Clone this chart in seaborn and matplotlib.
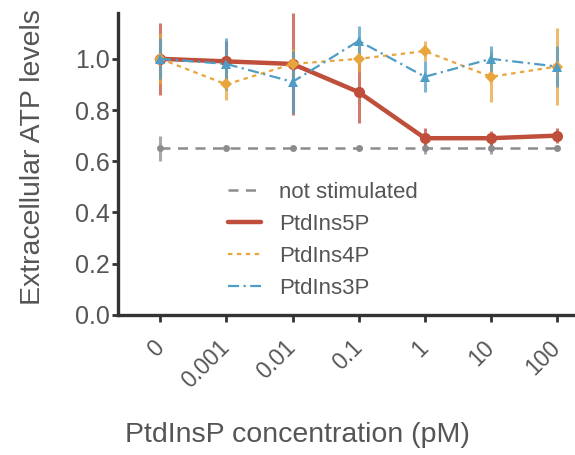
import numpy as np
import seaborn as sns
import matplotlib.pyplot as plt

# Data
concentrations = ["0", "0.001", "0.01", "0.1", "1", "10", "100"]

not_stim = [0.65, 0.65, 0.65, 0.65, 0.65, 0.65, 0.65]
not_stim_err = [0.05, 0, 0, 0, 0.02, 0.02, 0]

pi5p = [1.00, 0.99, 0.98, 0.87, 0.69, 0.69, 0.70]
pi5p_err = [0.14, 0.08, 0.20, 0.12, 0.04, 0.03, 0.03]

pi4p = [1.00, 0.90, 0.98, 1.00, 1.03, 0.93, 0.97]
pi4p_err = [0.10, 0.06, 0.06, 0.05, 0.04, 0.10, 0.15]

pi3p = [1.00, 0.98, 0.91, 1.07, 0.93, 1.00, 0.97]
pi3p_err = [0.08, 0.10, 0.12, 0.06, 0.06, 0.05, 0.08]

sns.set_style("ticks")
plt.rcParams["font.family"] = ["Liberation Sans", "DejaVu Sans"]

fig = plt.figure(figsize=(5.75, 4.55), dpi=100)
ax = fig.add_axes([0.205, 0.308, 0.81, 0.664])

x = np.arange(len(concentrations))
series = [
    ("not stimulated", not_stim, not_stim_err, "#8c8c8c", (0, (4, 3)), 1.8, "o", 5),
    ("PtdIns5P", pi5p, pi5p_err, "#bf4e3a", "-", 3.2, "o", 8),
    ("PtdIns4P", pi4p, pi4p_err, "#e8a53c", (0, (2, 2)), 1.6, "D", 6),
    ("PtdIns3P", pi3p, pi3p_err, "#4f9cc6", (0, (5, 2, 1, 2)), 1.6, "^", 7),
]

for name, vals, err, col, ls, lw, mk, ms in series:
    ax.errorbar(x, vals, yerr=err, fmt="none", ecolor=col, elinewidth=2.2,
                capsize=0, alpha=0.75, zorder=2)
    sns.lineplot(x=x, y=vals, ax=ax, color=col, linestyle=ls, linewidth=lw,
                 marker=mk, markersize=ms, markeredgewidth=0, label=name,
                 zorder=3)

ax.set_xlim(-0.64, 6.4)
ax.set_ylim(0, 1.18)
ax.set_yticks([0.0, 0.2, 0.4, 0.6, 0.8, 1.0])
ax.set_yticklabels(["0.0", "0.2", "0.4", "0.6", "0.8", "1.0"])
ax.set_xticks(x)
ax.set_xticklabels(concentrations, rotation=45, ha="right", va="center",
                   rotation_mode="anchor")
ax.tick_params(axis="y", labelsize=18, width=2, length=4, pad=2,
               color="#333333", labelcolor="#555555")
ax.tick_params(axis="x", labelsize=16.5, width=2, length=5, pad=16,
               color="#333333", labelcolor="#555555")

for side in ["left", "bottom"]:
    ax.spines[side].set_linewidth(2.4)
    ax.spines[side].set_color("#333333")
sns.despine(ax=ax)

ax.set_xlabel("PtdInsP concentration (pM)", fontsize=20.5, color="#555555",
              va="center", ha="center")
ax.xaxis.set_label_coords(0.386, -0.397)
ax.set_ylabel("Extracellular ATP levels", fontsize=20.5, color="#555555",
              va="center", ha="center")
ax.yaxis.set_label_coords(-0.182, 0.523)

leg = ax.legend(loc="center", bbox_to_anchor=(0.44, 0.247), frameon=False,
                fontsize=16, handlelength=1.5, labelspacing=0.5,
                handletextpad=0.8)
for t in leg.get_texts():
    t.set_color("#555555")
for h in leg.get_lines():
    h.set_marker("")

fig.savefig("out.png", dpi=100)
